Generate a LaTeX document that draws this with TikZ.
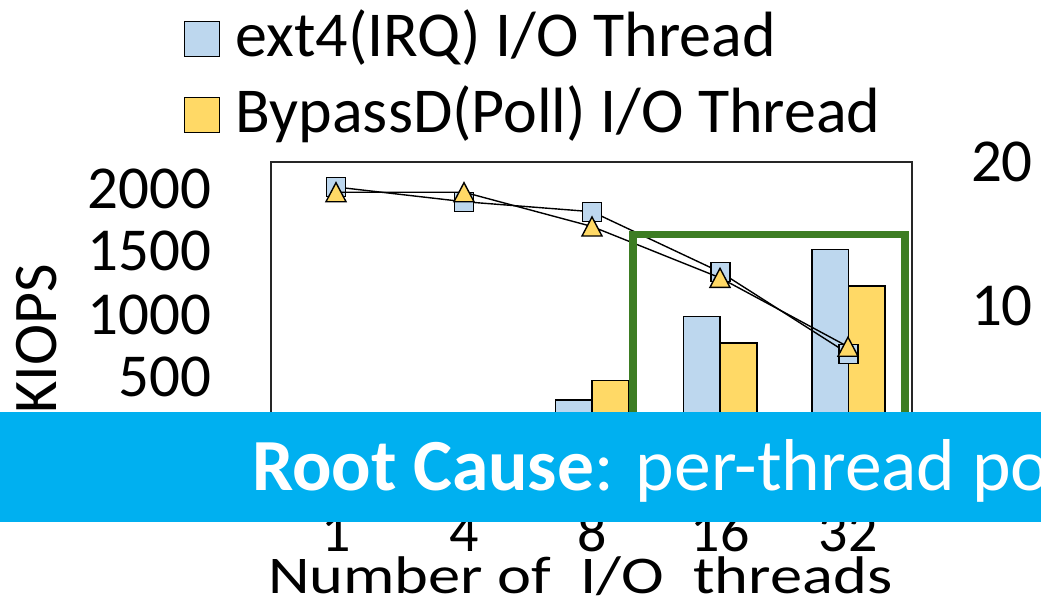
\documentclass[tikz,border=0pt]{standalone}
\usepackage{fontspec}
\setmainfont{Carlito}
\definecolor{barblue}{RGB}{189,215,238}
\definecolor{baryellow}{RGB}{255,217,102}
\definecolor{boxgreen}{RGB}{61,125,35}
\definecolor{bannercyan}{RGB}{0,176,240}

\tikzset{
  txt/.style={inner sep=0pt, outer sep=0pt, text=black},
  legtxt/.style={txt, font=\fontsize{64}{64}\selectfont},
  ticktxt/.style={txt, font=\fontsize{61}{61}\selectfont},
  xticktxt/.style={txt, font=\fontsize{58}{58}\selectfont},
  titletxt/.style={txt, font=\fontsize{53}{53}\selectfont},
  legbox/.style={rectangle, draw=black, line width=1.4pt, minimum size=35pt, inner sep=0pt},
  plotframe/.style={draw=black!85, line width=2.2pt},
  bar/.style={draw=black, line width=1.4pt},
  serline/.style={draw=black, line width=1.4pt},
  sqmark/.style={rectangle, draw=black, fill=barblue, line width=1.4pt, minimum size=19pt, inner sep=0pt},
  trimark/.style={draw=black, fill=baryellow, line width=1.4pt, line join=miter},
  tri/.pic={\path[trimark] (-10,9.5) -- (0,-9.5) -- (10,9.5) -- cycle;},
  greenbox/.style={draw=boxgreen, line width=7.3pt},
}

\begin{document}
\begin{tikzpicture}[x=1pt,y=-1pt]
\useasboundingbox (0,0) rectangle (1041,605);

% legend
\node[legbox, fill=barblue]   (k1) at (202,39.2)  {};
\node[legbox, fill=baryellow] (k2) at (202,114.8) {};
\node[legtxt, anchor=base west] (l1) at (235.5,56.7) {ext4(IRQ) I/O Thread};
\node[legtxt, anchor=base west] (l2) at (235.5,132)  {BypassD(Poll) I/O Thread};

% plot area
\draw[plotframe] (271,162.3) rectangle (912,445);

% left axis labels
\node[ticktxt, anchor=base east] (y2000) at (211,208.3) {2000};
\node[ticktxt, anchor=base east] (y1500) at (211,270)   {1500};
\node[ticktxt, anchor=base east] (y1000) at (211,334.5) {1000};
\node[ticktxt, anchor=base east] (y500)  at (211,396.7) {500};
\node[txt, font=\fontsize{62}{62}\selectfont, rotate=90, anchor=base east] (ytitle) at (56.7,264) {KIOPS};

% right axis labels
\node[ticktxt, anchor=base west] (r20) at (971,181.7) {20};
\node[ticktxt, anchor=base west] (r10) at (971,325)   {10};

% bars
\draw[bar, fill=barblue]   (555.7,445) rectangle (592,400);
\draw[bar, fill=baryellow] (592,445)   rectangle (628.3,380.3);
\draw[bar, fill=barblue]   (683.7,445) rectangle (720,316.7);
\draw[bar, fill=baryellow] (720,445)   rectangle (757,343);
\draw[bar, fill=barblue]   (812,445)   rectangle (848.7,249.3);
\draw[bar, fill=baryellow] (848.7,445) rectangle (885,286);

% data points
\coordinate (e1)  at (336,187);
\coordinate (e4)  at (464,201.7);
\coordinate (e8)  at (592,211.7);
\coordinate (e16) at (720.5,272.2);
\coordinate (e32) at (848.5,353.8);
\coordinate (b1)  at (336,192.2);
\coordinate (b4)  at (464,192.2);
\coordinate (b8)  at (592,226.5);
\coordinate (b16) at (720,277.8);
\coordinate (b32) at (848,346.7);

% ext4 series
\draw[serline] (e1) -- (e4) -- (e8) -- (e16) -- (e32);
\foreach \p in {e1,e4,e8,e16,e32} \node[sqmark] (m\p) at (\p) {};

% BypassD series
\draw[serline] (b1) -- (b4) -- (b8) -- (b16) -- (b32);
\foreach \p in {b1,b4,b8,b16,b32} \pic at (\p) {tri};

% highlighted region
\draw[greenbox] (633,480) |- (905,234.2) -- (905,480);

% x axis labels
\node[xticktxt, anchor=base] (x1)  at (336,551) {1};
\node[xticktxt, anchor=base] (x4)  at (464,551) {4};
\node[xticktxt, anchor=base] (x8)  at (592,551) {8};
\node[xticktxt, anchor=base] (x16) at (720,551) {16};
\node[xticktxt, anchor=base] (x32) at (848,551) {32};
\node[titletxt, anchor=base west] (xtitle) at (268,593)
  {\scalebox{1.215}[1]{Number of\ \ I/O\ \ threads}};

% banner
\fill[bannercyan] (0,411.7) rectangle (1041,521.7);
\node[txt, text=white, font=\fontsize{73.5}{73.5}\selectfont, anchor=base west] (cause) at (252,490)
  {\bfseries Root Cause\mdseries: per-thread po};
\end{tikzpicture}
\end{document}
